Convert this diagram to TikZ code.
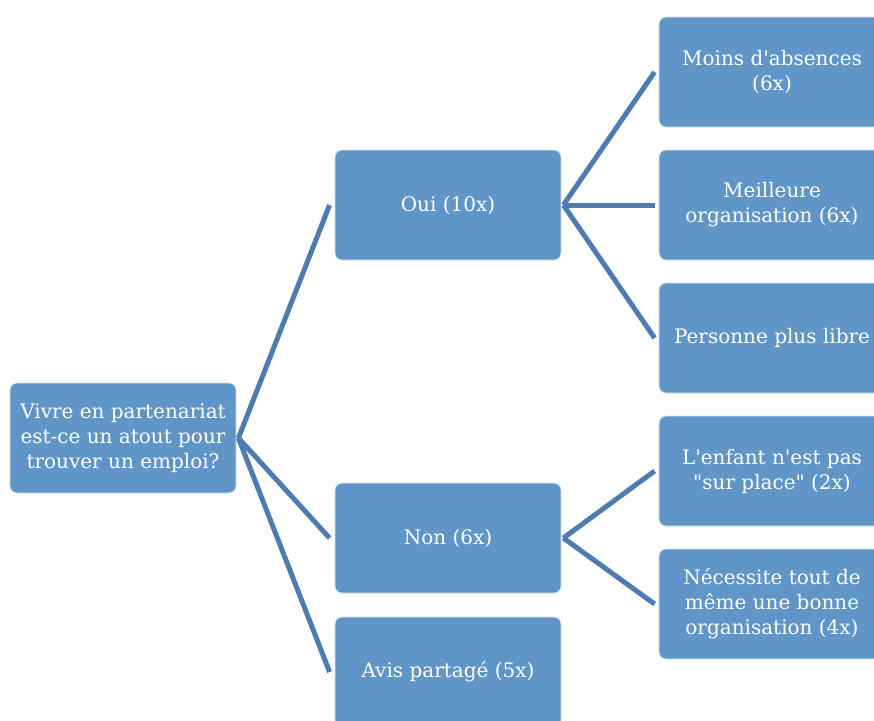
\documentclass[tikz,border=0pt]{standalone}
\usepackage{fontspec}
\setmainfont{DejaVu Serif}
\usepackage{xcolor}
\usepackage{tikz}
\usetikzlibrary{positioning}
\definecolor{boxBlue}{HTML}{6095C8}
\definecolor{lineBlue}{HTML}{4E7CB0}

\begin{document}
\begin{tikzpicture}[x=1pt, y=-1pt,
  box/.style={rectangle, rounded corners=7pt, fill=boxBlue, draw=white!75!boxBlue,
    line width=0.8pt, text=white, minimum width=226pt, minimum height=110pt,
    align=center, inner sep=0pt, font=\fontsize{20}{25}\selectfont},
  link/.style={lineBlue, line width=5pt}]
  \useasboundingbox (0,0) rectangle (874,720);
  \clip (0,0) rectangle (874,720);
  % question
  \node[box] (root) at (123,438) {Vivre en partenariat\\est-ce un atout pour\\trouver un emploi?};
  % first level answers
  \node[box] (oui) at (448,205) {Oui (10x)};
  \node[box] (non) at (448,538) {Non (6x)};
  \node[box] (avis) at (448,672) {Avis partag\'e (5x)};
  % reasons, right column
  \foreach \nm/\yy/\txt in {abs/72/{Moins d\textquotesingle absences\\(6x)},
      orga/205/{Meilleure\\organisation (6x)},
      libre/338/{Personne plus libre},
      place/471/{L\textquotesingle enfant n\textquotesingle est pas\\\textquotedbl sur place\textquotedbl{} (2x)},
      bonne/604/{N\'ecessite tout de\\m\^eme une bonne\\organisation (4x)}}{
    \node[box] (\nm) at (772,\yy) {\txt};
  }
  % connectors from the question
  \foreach \cc in {oui,non,avis}
    \draw[link] ([xshift=2pt]root.east) -- ([xshift=-5pt]\cc.west);
  % connectors to the reasons
  \foreach \cc in {abs,orga,libre}
    \draw[link] ([xshift=2pt]oui.east) -- ([xshift=-4pt]\cc.west);
  \foreach \cc in {place,bonne}
    \draw[link] ([xshift=2pt]non.east) -- ([xshift=-4pt]\cc.west);
\end{tikzpicture}
\end{document}
